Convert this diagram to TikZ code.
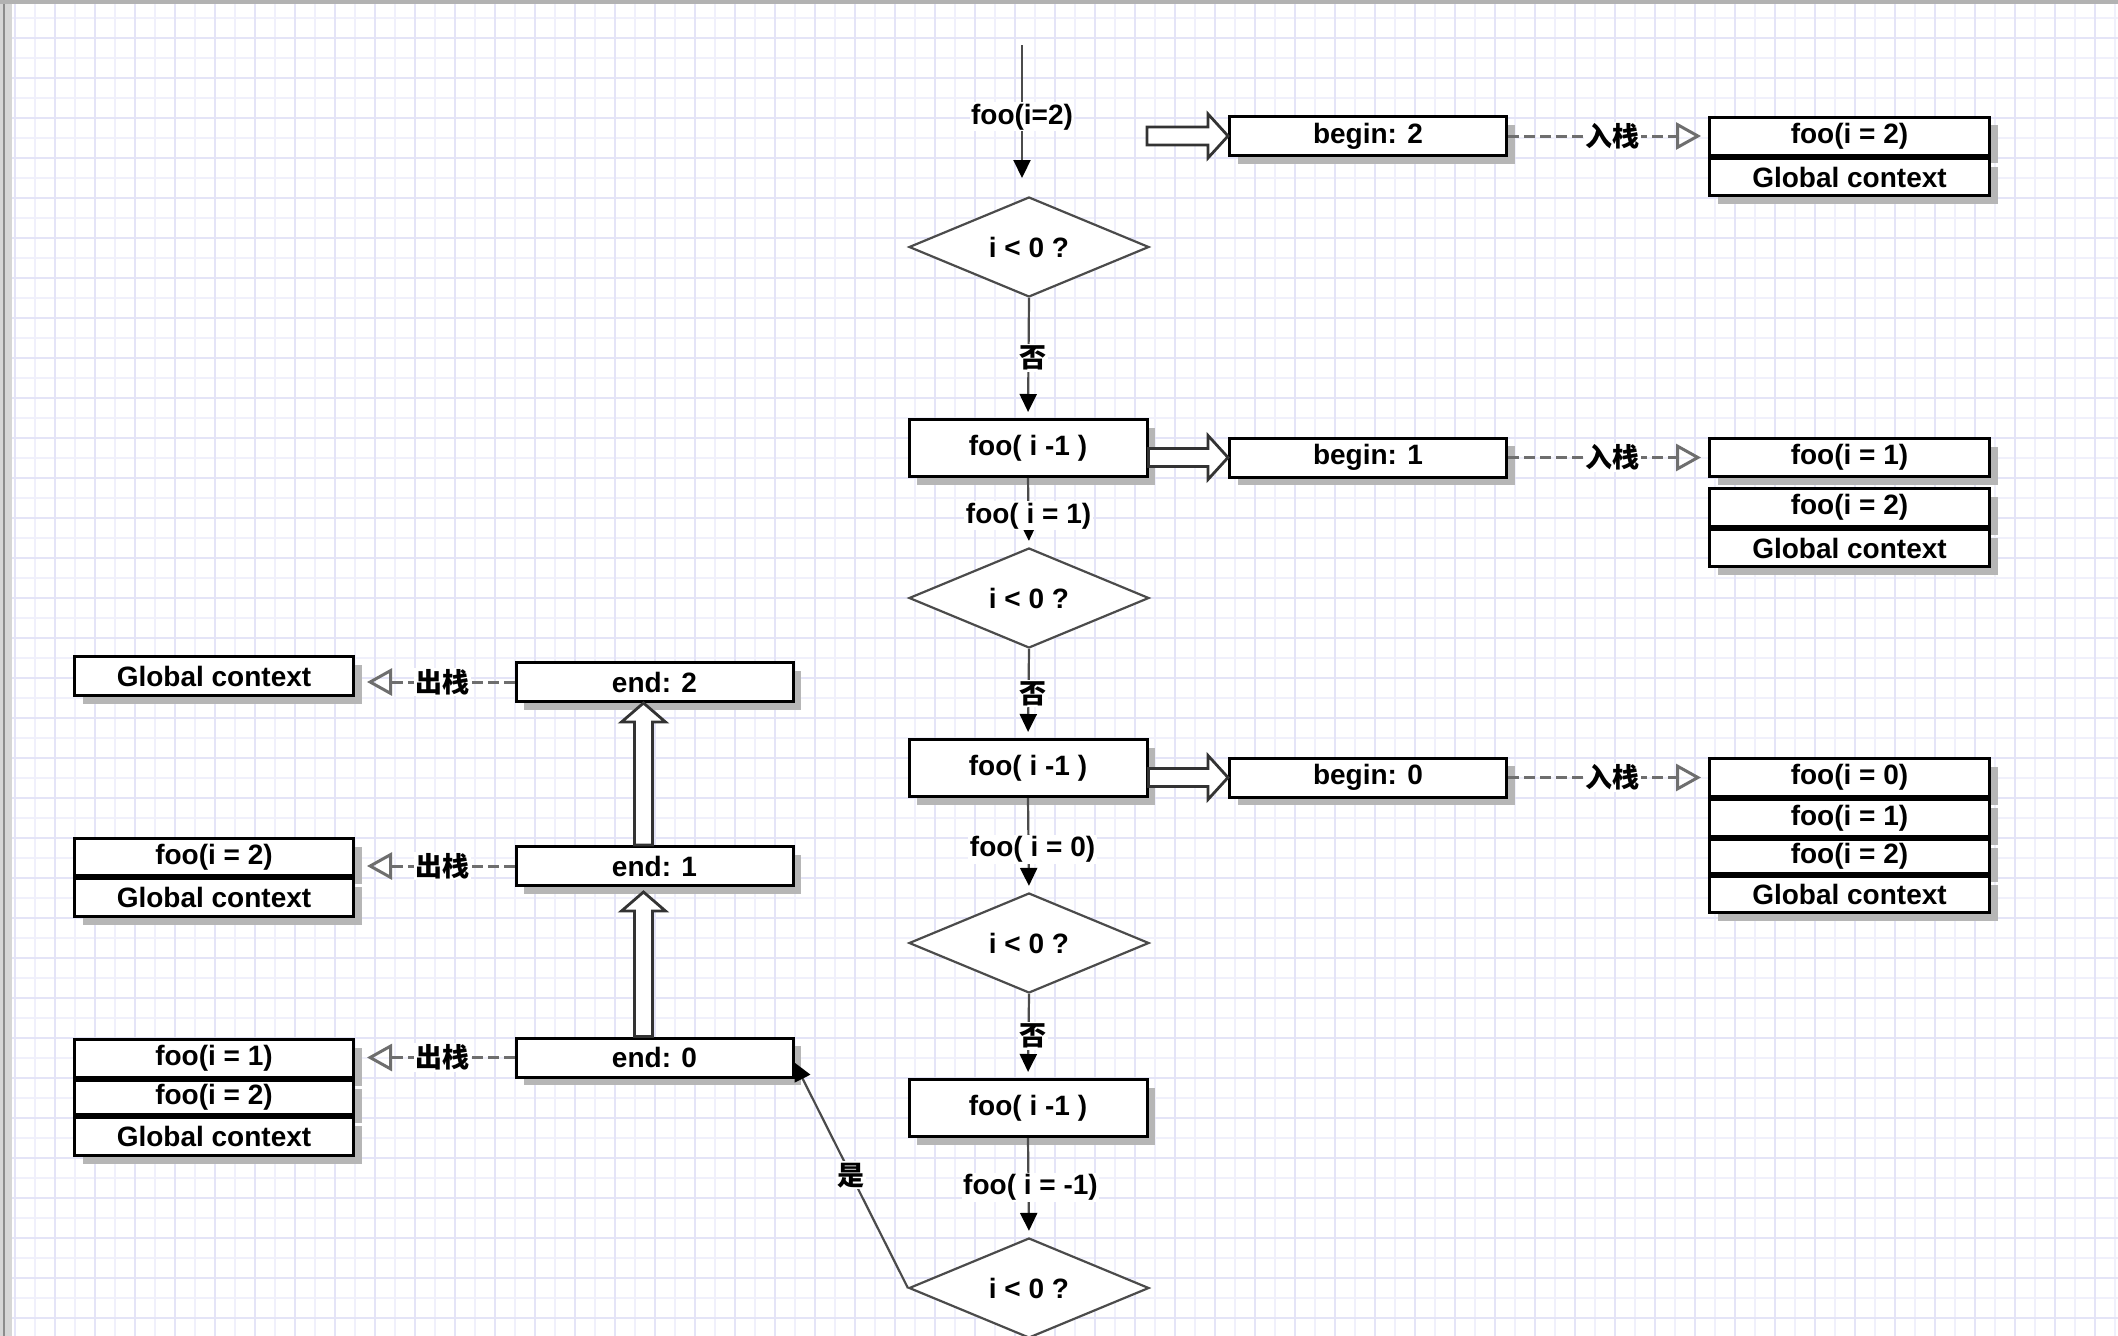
\documentclass[tikz,border=0pt]{standalone}
\usepackage{fontspec}
\setmainfont{Liberation Sans}
\newfontfamily\cjk{Noto Sans CJK SC}
\usetikzlibrary{shapes.geometric,arrows.meta,shadows,calc}
\definecolor{gridminor}{RGB}{240,240,251}
\definecolor{gridmajor}{RGB}{228,228,247}
\definecolor{lineg}{RGB}{75,75,75}
\definecolor{dashg}{RGB}{110,110,110}
\definecolor{shad}{RGB}{182,182,182}
\newcommand{\harrow}[2]{\draw[hollow] ([yshift=9pt]#1) -- ([xshift=-20pt,yshift=9pt]#2) -- ([xshift=-20pt,yshift=22pt]#2) -- (#2) -- ([xshift=-20pt,yshift=-22pt]#2) -- ([xshift=-20pt,yshift=-9pt]#2) -- ([yshift=-9pt]#1) -- cycle;}
\newcommand{\varrow}[2]{\draw[hollow] ([xshift=-9pt]#1) -- ([xshift=-9pt,yshift=-19pt]#2) -- ([xshift=-22pt,yshift=-19pt]#2) -- (#2) -- ([xshift=22pt,yshift=-19pt]#2) -- ([xshift=9pt,yshift=-19pt]#2) -- ([xshift=9pt]#1) -- cycle;}
\begin{document}
\begin{tikzpicture}[x=1pt,y=-1pt,
  every node/.style={font=\fontsize{28}{32}\selectfont\bfseries},
  box/.style={draw=black, line width=3pt, fill=white, inner sep=0pt,
    drop shadow={shadow xshift=8pt, shadow yshift=-8pt, fill=shad, opacity=1}},
  flowbox/.style={box, minimum width=238pt, minimum height=57pt},
  beginbox/.style={box, minimum width=277pt, minimum height=39pt},
  cell/.style={box, minimum width=280pt, minimum height=38pt},
  cond/.style={diamond, draw=lineg, line width=2.2pt, fill=white, minimum width=240pt, minimum height=100pt, aspect=2.4, inner sep=0pt},
  lbl/.style={fill=white, inner sep=1.5pt},
  cjklbl/.style={fill=white, inner sep=1.5pt, font=\fontsize{27}{30}\selectfont\cjk\bfseries},
  flow/.style={draw=lineg, line width=2.2pt, -{Triangle[length=18pt,width=17pt,color=black]}},
  stackline/.style={draw=dashg, line width=3pt, dash pattern=on 11pt off 5pt, -{Triangle[open,length=25pt,width=27pt]}},
  hollow/.style={draw=black!80, line width=2.8pt, fill=white, line join=miter},
  gmin/.style={draw=gridminor, line width=1.2pt},
  gmaj/.style={draw=gridmajor, line width=1.5pt}
]
\useasboundingbox (0,0) rectangle (2118,1336);
% background grid
\fill[white] (0,0) rectangle (2118,1336);
\foreach \x in {15,35,...,2118} \draw[gmin] (\x,0) -- (\x,1336);
\foreach \y in {18,38,...,1336} \draw[gmin] (0,\y) -- (2118,\y);
\foreach \x in {15,55,...,2118} \draw[gmaj] (\x,0) -- (\x,1336);
\foreach \y in {38,78,...,1336} \draw[gmaj] (0,\y) -- (2118,\y);
\fill[black!16] (0,0) rectangle (12,1336);
\draw[black!45, line width=1.5pt] (4,0) -- (4,1336);
\fill[black!30] (0,0) rectangle (2118,4);

% main flow
\node[cond] (d1) at (1029,247) {i < 0 ?};
\node[flowbox] (r1) at (1028,448) {foo( i -1 )};
\node[cond] (d2) at (1029,598) {i < 0 ?};
\node[flowbox] (r2) at (1028,768) {foo( i -1 )};
\node[cond] (d3) at (1029,943) {i < 0 ?};
\node[flowbox] (r3) at (1028,1108) {foo( i -1 )};
\node[cond] (d4) at (1029,1288) {i < 0 ?};

% begin boxes
\node[beginbox] (b2) at (1368,136) {begin: 2};
\node[beginbox] (b1) at (1368,457.5) {begin: 1};
\node[beginbox] (b0) at (1368,777.5) {begin: 0};

% right stacks
\node[cell] (s2a) at (1849.5,136) {foo(i = 2)};
\node[cell, minimum height=37pt] (s2b) at (1849.5,177) {Global context};
\node[cell] (s1a) at (1849.5,457.5) {foo(i = 1)};
\node[cell] (s1b) at (1849.5,507.5) {foo(i = 2)};
\node[cell, minimum height=37pt] (s1c) at (1849.5,548) {Global context};
\node[cell] (s0a) at (1849.5,777.5) {foo(i = 0)};
\node[cell, minimum height=37pt] (s0b) at (1849.5,818) {foo(i = 1)};
\node[cell, minimum height=34pt] (s0c) at (1849.5,856.5) {foo(i = 2)};
\node[cell, minimum height=36pt] (s0d) at (1849.5,894.5) {Global context};

% end boxes
\node[beginbox] (e2) at (654.5,682) {end: 2};
\node[beginbox] (e1) at (654.5,866) {end: 1};
\node[beginbox] (e0) at (654.5,1057.5) {end: 0};

% left stacks
\node[cell, minimum width=279pt, minimum height=39pt] (L2a) at (214,676) {Global context};
\node[cell, minimum width=279pt, minimum height=37pt] (L1a) at (214,857) {foo(i = 2)};
\node[cell, minimum width=279pt, minimum height=38pt] (L1b) at (214,897.5) {Global context};
\node[cell, minimum width=279pt, minimum height=38pt] (L0a) at (214,1058.5) {foo(i = 1)};
\node[cell, minimum width=279pt, minimum height=34pt] (L0b) at (214,1097.5) {foo(i = 2)};
\node[cell, minimum width=279pt, minimum height=38pt] (L0c) at (214,1136.5) {Global context};

% flow connectors
\coordinate (t0) at (1022,45);
\coordinate (t1) at (1022,178);
\draw[flow] (t0) -- node[lbl, pos=0.54] {foo(i=2)} (t1);
\draw[flow, shorten >=6pt] (d1.south) -- node[cjklbl, xshift=4pt] {否} (r1.north);
\draw[flow, shorten >=6pt] (r1.south) -- node[lbl, pos=0.55] {foo( i = 1)} (d2.north);
\draw[flow, shorten >=6pt] (d2.south) -- node[cjklbl, xshift=4pt] {否} (r2.north);
\draw[flow, shorten >=6pt] (r2.south) -- node[lbl, pos=0.55, xshift=4pt] {foo( i = 0)} (d3.north);
\draw[flow, shorten >=6pt] (d3.south) -- node[cjklbl, xshift=4pt] {否} (r3.north);
\draw[flow, shorten >=6pt] (r3.south) -- node[lbl, pos=0.5, xshift=2pt] {foo( i = -1)} (d4.north);
\draw[flow] (d4.west) -- node[cjklbl] {是} ([yshift=-5pt]e0.east);

% hollow arrows
\coordinate (h0) at (1147,136);
\harrow{h0}{b2.west}
\coordinate (h1) at (r1.east |- b1.west);
\harrow{h1}{b1.west}
\coordinate (h2) at (r2.east |- b0.west);
\harrow{h2}{b0.west}
\coordinate (v1s) at ([xshift=-11pt]e1.north);
\coordinate (v1t) at ([xshift=-11pt]e2.south);
\varrow{v1s}{v1t}
\coordinate (v0s) at ([xshift=-11pt]e0.north);
\coordinate (v0t) at ([xshift=-11pt,yshift=-5pt]e1.south);
\varrow{v0s}{v0t}

% push connectors
\draw[stackline, shorten >=7pt] (b2.east) -- node[cjklbl, pos=0.52] {入栈} (b2.east -| s2a.west);
\draw[stackline, shorten >=7pt] (b1.east) -- node[cjklbl, pos=0.52] {入栈} (b1.east -| s1a.west);
\draw[stackline, shorten >=7pt] (b0.east) -- node[cjklbl, pos=0.52] {入栈} (b0.east -| s0a.west);

% pop connectors
\draw[stackline, shorten >=12pt] (e2.west) -- node[cjklbl, pos=0.45] {出栈} (e2.west -| L2a.east);
\draw[stackline, shorten >=12pt] (e1.west) -- node[cjklbl, pos=0.45] {出栈} (e1.west -| L1a.east);
\draw[stackline, shorten >=12pt] (e0.west) -- node[cjklbl, pos=0.45] {出栈} (e0.west -| L0a.east);
\end{tikzpicture}
\end{document}
